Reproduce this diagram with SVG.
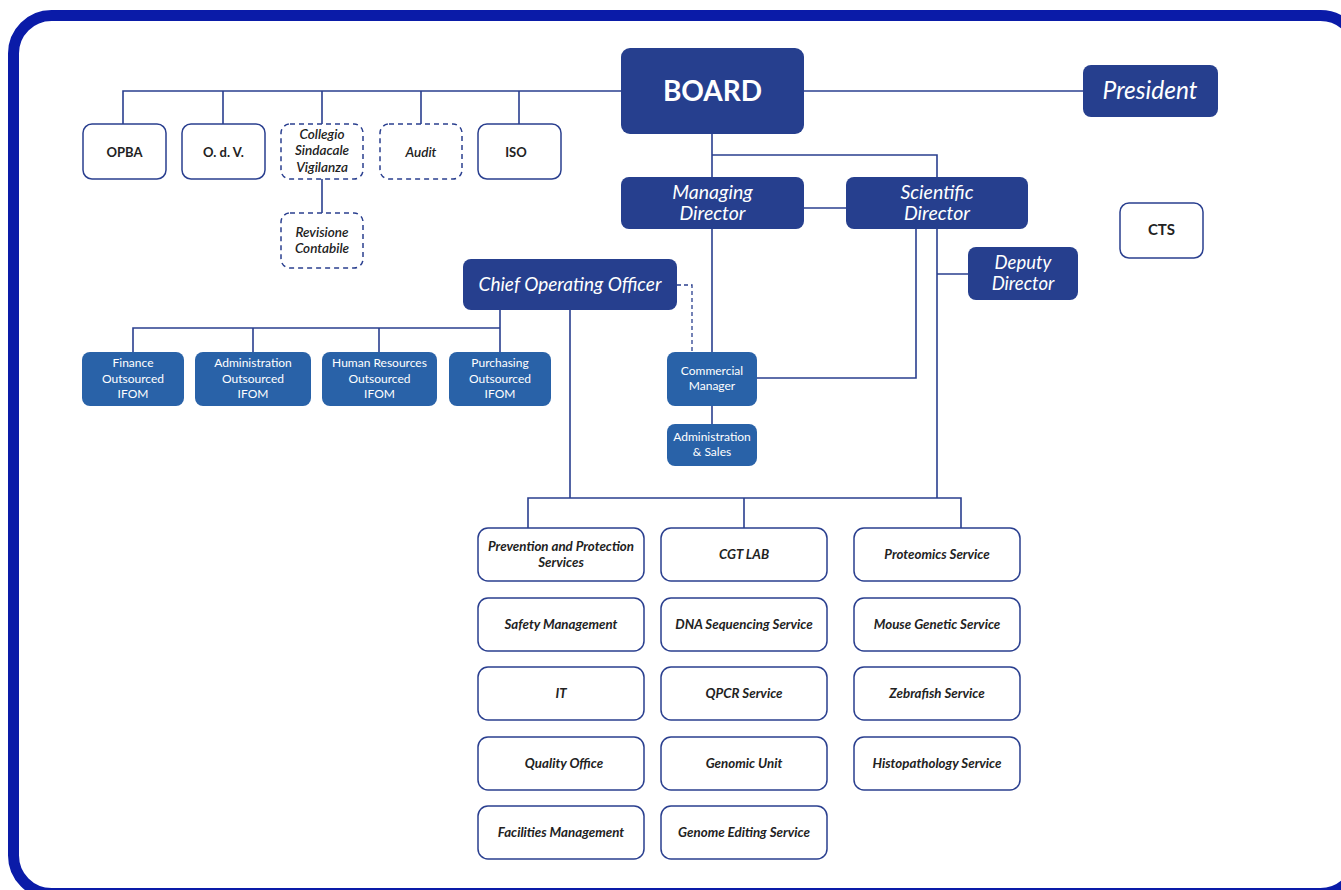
<svg xmlns="http://www.w3.org/2000/svg" width="1341" height="890" viewBox="0 0 1341 890">
<style>
.frame{fill:#fff;stroke:#0a1ba8;stroke-width:11}
.dark{fill:#263f8e}
.light{fill:#2962a8}
.white{fill:#fff;stroke:#2a3f8f;stroke-width:1.5}
.dash{fill:#fff;stroke:#2a3f8f;stroke-width:1.5;stroke-dasharray:5 4}
.ln{fill:none;stroke:#2a3f8f;stroke-width:1.6}
.lnd{fill:none;stroke:#2a3f8f;stroke-width:1.3;stroke-dasharray:4 3}
text{font-family:Lato,"Open Sans","Liberation Sans",sans-serif;text-anchor:middle}
.tw{fill:#fff;font-style:italic}
.tb{fill:#222;font-weight:bold;font-size:13px}
.ti{fill:#222;font-style:italic;font-weight:600;font-size:13.5px}
.ts{fill:#fff;font-size:12px}
.tg{fill:#222;font-style:italic;font-weight:bold;font-size:13.3px}
</style>
<rect class="frame" x="13.5" y="15.5" width="1345" height="878" rx="38"/>
<g id="connectors">
<path class="ln" d="M123,124V91H621M223,91V124M322,91V124M421,91V124M519,91V124"/>
<path class="ln" d="M322,179V213"/>
<path class="ln" d="M804,91H1083"/>
<path class="ln" d="M712,134V177M712,155H937V177"/>
<path class="ln" d="M804,208H846"/>
<path class="ln" d="M712,229V352"/>
<path class="ln" d="M916,229V378H757"/>
<path class="ln" d="M937,229V498M937,274H968"/>
<path class="ln" d="M570,310V498M528,528V498H961V528M744,498V528"/>
<path class="ln" d="M500,310V328M133,352V328H500V352M253,328V352M379,328V352"/>
<path class="ln" d="M712,406V424"/>
<path class="lnd" d="M677,285H692V352"/>
</g>
<g id="board"><rect class="dark" x="621" y="48" width="183" height="86" rx="9"/><text class="tw" x="712.5" y="101" style="font-style:normal;font-weight:bold;font-size:28px">BOARD</text></g>
<g id="president"><rect class="dark" x="1083" y="65" width="135" height="52" rx="8"/><text class="tw" x="1150" y="99" font-size="24.5">President</text></g>
<g id="managing"><rect class="dark" x="621" y="177" width="183" height="52" rx="8"/><text class="tw" x="712.5" y="199" font-size="19.5">Managing</text><text class="tw" x="712.5" y="220" font-size="19.5">Director</text></g>
<g id="scientific"><rect class="dark" x="846" y="177" width="182" height="52" rx="8"/><text class="tw" x="937" y="199" font-size="19.5">Scientific</text><text class="tw" x="937" y="220" font-size="19.5">Director</text></g>
<g id="deputy"><rect class="dark" x="968" y="247" width="110" height="53" rx="8"/><text class="tw" x="1023" y="269" font-size="18.5">Deputy</text><text class="tw" x="1023" y="290" font-size="18.5">Director</text></g>
<g id="cts"><rect class="white" x="1120" y="203" width="83" height="55" rx="9"/><text class="tb" x="1161.5" y="235" style="font-size:15px">CTS</text></g>
<g id="coo"><rect class="dark" x="463" y="259" width="214" height="51" rx="8"/><text class="tw" x="570" y="291" font-size="19">Chief Operating Officer</text></g>
<g id="opba"><rect class="white" x="83" y="124" width="83" height="55" rx="9"/><text class="tb" x="124.5" y="157">OPBA</text></g>
<g id="odv"><rect class="white" x="182" y="124" width="83" height="55" rx="9"/><text class="tb" x="223.5" y="157">O. d. V.</text></g>
<g id="collegio"><rect class="dash" x="281" y="124" width="82" height="55" rx="9"/><text class="ti" x="322" y="139">Collegio</text><text class="ti" x="322" y="155">Sindacale</text><text class="ti" x="322" y="172">Vigilanza</text></g>
<g id="audit"><rect class="dash" x="380" y="124" width="82" height="55" rx="9"/><text class="ti" x="421" y="157">Audit</text></g>
<g id="iso"><rect class="white" x="478" y="124" width="83" height="55" rx="9"/><text class="tb" x="516" y="157">ISO</text></g>
<g id="revisione"><rect class="dash" x="281" y="213" width="82" height="55" rx="9"/><text class="ti" x="322" y="237">Revisione</text><text class="ti" x="322" y="253">Contabile</text></g>
<g id="finance"><rect class="light" x="82" y="352" width="102" height="54" rx="8"/><text class="ts" x="133" y="367">Finance</text><text class="ts" x="133" y="383">Outsourced</text><text class="ts" x="133" y="398">IFOM</text></g>
<g id="admin"><rect class="light" x="195" y="352" width="116" height="54" rx="8"/><text class="ts" x="253" y="367">Administration</text><text class="ts" x="253" y="383">Outsourced</text><text class="ts" x="253" y="398">IFOM</text></g>
<g id="hr"><rect class="light" x="322" y="352" width="115" height="54" rx="8"/><text class="ts" x="379.5" y="367">Human Resources</text><text class="ts" x="379.5" y="383">Outsourced</text><text class="ts" x="379.5" y="398">IFOM</text></g>
<g id="purchasing"><rect class="light" x="449" y="352" width="102" height="54" rx="8"/><text class="ts" x="500" y="367">Purchasing</text><text class="ts" x="500" y="383">Outsourced</text><text class="ts" x="500" y="398">IFOM</text></g>
<g id="commercial"><rect class="light" x="667" y="352" width="90" height="54" rx="8"/><text class="ts" x="712" y="375">Commercial</text><text class="ts" x="712" y="390">Manager</text></g>
<g id="adminsales"><rect class="light" x="667" y="424" width="90" height="42" rx="8"/><text class="ts" x="712" y="441">Administration</text><text class="ts" x="712" y="456">&amp; Sales</text></g>
<g id="prevention"><rect class="white" x="478" y="528" width="166" height="53" rx="10"/><text class="tg" x="561" y="551">Prevention and Protection</text><text class="tg" x="561" y="567">Services</text></g>
<g id="safety"><rect class="white" x="478" y="598" width="166" height="53" rx="10"/><text class="tg" x="561" y="629">Safety Management</text></g>
<g id="it"><rect class="white" x="478" y="667" width="166" height="53" rx="10"/><text class="tg" x="561" y="698">IT</text></g>
<g id="quality"><rect class="white" x="478" y="737" width="166" height="53" rx="10"/><text class="tg" x="564" y="768">Quality Office</text></g>
<g id="facilities"><rect class="white" x="478" y="806" width="166" height="53" rx="10"/><text class="tg" x="561" y="837">Facilities Management</text></g>
<g id="cgt"><rect class="white" x="661" y="528" width="166" height="53" rx="10"/><text class="tg" x="744" y="559">CGT LAB</text></g>
<g id="dna"><rect class="white" x="661" y="598" width="166" height="53" rx="10"/><text class="tg" x="744" y="629">DNA Sequencing Service</text></g>
<g id="qpcr"><rect class="white" x="661" y="667" width="166" height="53" rx="10"/><text class="tg" x="744" y="698">QPCR Service</text></g>
<g id="genomic"><rect class="white" x="661" y="737" width="166" height="53" rx="10"/><text class="tg" x="744" y="768">Genomic Unit</text></g>
<g id="genome"><rect class="white" x="661" y="806" width="166" height="53" rx="10"/><text class="tg" x="744" y="837">Genome Editing Service</text></g>
<g id="proteomics"><rect class="white" x="854" y="528" width="166" height="53" rx="10"/><text class="tg" x="937" y="559">Proteomics Service</text></g>
<g id="mouse"><rect class="white" x="854" y="598" width="166" height="53" rx="10"/><text class="tg" x="937" y="629">Mouse Genetic Service</text></g>
<g id="zebrafish"><rect class="white" x="854" y="667" width="166" height="53" rx="10"/><text class="tg" x="937" y="698">Zebrafish Service</text></g>
<g id="histo"><rect class="white" x="854" y="737" width="166" height="53" rx="10"/><text class="tg" x="937" y="768">Histopathology Service</text></g>
</svg>
